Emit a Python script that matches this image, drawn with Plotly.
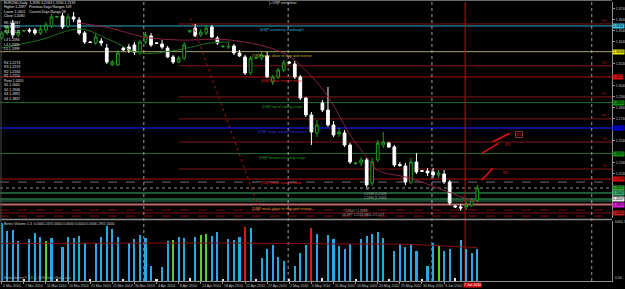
import plotly.graph_objects as go

# ---------------- data ----------------
bar_index = list(range(87))
opens = [1.3472,1.3518,1.3609,1.3500,1.3536,1.3545,1.3545,1.3518,1.3545,1.3582,
         1.3664,1.3673,1.3582,1.3664,1.3636,1.3518,1.3436,1.3427,1.3445,1.3381,
         1.3227,1.3227,1.3381,1.3390,1.3409,1.3345,1.3436,1.3491,1.3427,1.3418,
         1.3381,1.3300,1.3254,1.3290,1.3530,1.3563,1.3500,1.3518,1.3572,1.3472,
         1.3395,1.3392,1.3400,1.3336,1.3300,1.3154,1.3290,1.3290,1.3309,1.3072,
         1.3118,1.3181,1.3254,1.3236,1.3118,1.2926,1.2772,1.2608,1.2881,1.2817,
         1.2681,1.2599,1.2608,1.2499,1.2330,1.2335,1.2363,1.2153,1.2363,1.2499,
         1.2517,1.2481,1.2321,1.2308,1.2162,1.2344,1.2265,1.2262,1.2253,1.2226,
         1.2235,1.2162,1.1944,1.1935,1.1935,1.1953,1.1998]
highs = [1.3536,1.3591,1.3636,1.3545,1.3545,1.3563,1.3563,1.3591,1.3618,1.3691,
         1.3673,1.3700,1.3691,1.3709,1.3664,1.3536,1.3445,1.3518,1.3472,1.3418,
         1.3272,1.3363,1.3390,1.3418,1.3436,1.3454,1.3527,1.3518,1.3436,1.3454,
         1.3400,1.3318,1.3309,1.3436,1.3545,1.3600,1.3554,1.3591,1.3591,1.3491,
         1.3409,1.3427,1.3418,1.3363,1.3318,1.3309,1.3300,1.3345,1.3345,1.3136,
         1.3200,1.3272,1.3263,1.3263,1.3136,1.2935,1.2799,1.2726,1.2908,1.3027,
         1.2717,1.2654,1.2636,1.2517,1.2344,1.2390,1.2381,1.2381,1.2544,1.2617,
         1.2526,1.2499,1.2344,1.2335,1.2381,1.2426,1.2271,1.2289,1.2289,1.2271,
         1.2271,1.2180,1.1953,1.1962,1.1980,1.2016,1.2135]
lows = [1.3454,1.3500,1.3472,1.3482,1.3527,1.3518,1.3500,1.3500,1.3518,1.3563,
        1.3654,1.3554,1.3563,1.3618,1.3500,1.3418,1.3427,1.3409,1.3400,1.3236,
        1.3218,1.3218,1.3354,1.3336,1.3318,1.3318,1.3418,1.3390,1.3418,1.3372,
        1.3290,1.3236,1.3245,1.3272,1.3518,1.3482,1.3482,1.3500,1.3472,1.3409,
        1.3381,1.3372,1.3318,1.3300,1.3136,1.3136,1.3281,1.3272,1.3108,1.3045,
        1.3099,1.3163,1.3236,1.3099,1.2908,1.2754,1.2499,1.2571,1.2799,1.2663,
        1.2571,1.2571,1.2481,1.2326,1.2317,1.2308,1.2117,1.2126,1.2344,1.2472,
        1.2472,1.2299,1.2299,1.2135,1.2144,1.2235,1.2253,1.2217,1.2198,1.2198,
        1.2144,1.1953,1.1925,1.1898,1.1907,1.1935,1.1980]
closes = [1.3518,1.3572,1.3500,1.3527,1.3540,1.3536,1.3518,1.3554,1.3591,1.3664,
          1.3668,1.3572,1.3664,1.3645,1.3518,1.3436,1.3432,1.3482,1.3427,1.3254,
          1.3254,1.3336,1.3363,1.3363,1.3345,1.3436,1.3500,1.3409,1.3424,1.3390,
          1.3300,1.3254,1.3290,1.3409,1.3540,1.3491,1.3527,1.3563,1.3482,1.3427,
          1.3398,1.3395,1.3336,1.3309,1.3154,1.3290,1.3292,1.3318,1.3118,1.3118,
          1.3181,1.3245,1.3245,1.3118,1.2926,1.2772,1.2617,1.2681,1.2817,1.2681,
          1.2590,1.2617,1.2499,1.2344,1.2335,1.2363,1.2135,1.2344,1.2517,1.2526,
          1.2481,1.2317,1.2313,1.2162,1.2344,1.2253,1.2260,1.2244,1.2226,1.2244,
          1.2162,1.1971,1.1935,1.1925,1.1953,1.1998,1.2107]
volumes = [6250,5370,5480,4270,200,4490,5150,4710,4270,4600,
           150,3620,4710,4600,4820,4060,200,4060,4710,5920,
           5590,4710,220,4060,4490,4930,4600,1640,220,1530,
           4270,4380,4710,4600,330,4710,4930,5040,4820,5260,
           220,4490,4380,4710,5810,5700,220,2520,3400,3840,
           2630,2190,150,1640,3070,3840,5700,5040,330,4930,
           4490,3730,3400,3950,220,4490,4820,5040,5260,4600,
           220,3180,3950,3620,3950,3180,220,1640,4060,3730,
           3180,3400,330,4380,3400,3070,3400]
volume_type = ["n"] * 87
for i in [8, 31, 36, 37, 79]:
    volume_type[i] = "churn"
for i in [44, 56]:
    volume_type[i] = "climax"
for i in [4, 10, 16, 22, 28, 34, 40, 46, 52, 58, 64, 70, 76, 82]:
    volume_type[i] = "low"

vol_ma_x = [0, 20, 40, 60, 74, 86]
vol_ma_y = [4050, 4050, 4100, 4000, 3950, 3600]

ma_red_x = [13.8, 19.6, 25.6, 32.2, 41.3, 50.9, 55.8, 59.4, 63.0, 66.0, 67.9, 73.8, 79.8, 84.7, 86.0]
ma_red_y = [1.3609, 1.3563, 1.3482, 1.3454, 1.3454, 1.3336, 1.3136, 1.2908, 1.2590, 1.2390,
            1.2271, 1.2198, 1.2089, 1.1998, 1.1980]
ma_green_x = [0, 6.9, 14.2, 19.6, 25.0, 31.7, 37.7, 41.3]
ma_green_y = [1.3381, 1.3454, 1.3554, 1.3454, 1.3336, 1.3363, 1.3427, 1.3436]

trend_x = [34.1, 46.3]
trend_y = [1.3654, 1.1953]

date_ticks = list(range(0, 81, 4))
date_labels = ["2 Mar 2010", "7 Mar 2010", "11 Mar 2010", "16 Mar 2010", "21 Mar 2010",
               "25 Mar 2010", "30 Mar 2010", "4 Apr 2010", "8 Apr 2010", "13 Apr 2010",
               "18 Apr 2010", "22 Apr 2010", "27 Apr 2010", "2 May 2010", "6 May 2010",
               "11 May 2010", "16 May 2010", "20 May 2010", "25 May 2010", "30 May 2010",
               "3 Jun 2010"]

price_ticks = [1.3740, 1.3640, 1.3540, 1.3440, 1.3240, 1.3040, 1.2940,
               1.2840, 1.2740, 1.2540, 1.2340, 1.2240]

mm_levels = [1.3582, 1.3348, 1.3118, 1.2885, 1.2654, 1.2421, 1.2189, 1.1957]
mm_labels = ["[8/8]P extremely overbought", "[7/8]P weak, place to stop and reverse",
             "[6/8]P pivot, reverse major", "[5/8]P top of trading range",
             "[4/8]P major support/resistance", "[3/8]P bottom of trading range",
             "[2/8]P pivot, reverse major", "[1/8]P weak, place to stop and reverse"]

pivot_levels = [1.3600, 1.3220, 1.2936, 1.2736, 1.2526, 1.2280]
pivot_names = ["R3", "R2", "R1", "PP", "S1", "S2"]
pivot_start = 32

daily_levels = [1.2162, 1.2107, 1.2062, 1.2007, 1.1989, 1.1907, 1.1880, 1.1852]

vlines_dotted = [25.7, 51.8, 77.8, 106.7]
vline_red = 83.8

target_lines = [([86.8, 88.8], [1.2180, 1.2287]), ([86.8, 89.8], [1.2423, 1.2514]),
                ([88.8, 91.9], [1.2529, 1.2605])]
target_labels = [(90.4, 1.2247, "R1"), (90.9, 1.2505, "R2"), (92.8, 1.2596, "R3")]

camarilla = ["H5 1.2267", "H4 1.2211", "H3 1.2172", "L3 1.2094", "L4 1.2055", "L5 1.1999"]
pivots_txt = ["R4 1.2274", "R3 1.2219", "R2 1.2164", "R1 1.2110", "Pivot 1.2055",
              "S1 1.2001", "S2 1.1946", "S3 1.1892", "S4 1.1837"]

# right-hand price boxes
box_levels = [1.3582, 1.3348, 1.3118, 1.2885, 1.2654, 1.2421, 1.2189, 1.2107, 1.2062, 1.2007, 1.1957, 1.1880]

# ---------------- layout geometry ----------------
W, H = 625, 289
ML, MR, MT, MB = 0, 13, 0, 8
PW, PH = W - ML - MR, H - MT - MB
X_RANGE = [-0.307, 110.36]
P_RANGE = [1.18344, 1.3800]
V_RANGE = [0, 6464.7]


def py(pix):
    return (PH - pix) / PH


def pxf(pix):
    return pix / PW


FONT = "Liberation Sans, Arial, sans-serif"
FS = 4.0
FS_SMALL = 3.5
MAIN_DOM = [py(218), py(2)]
VOL_DOM = [0, py(221)]

fig = go.Figure()

fig.add_trace(go.Candlestick(
    x=bar_index, open=opens, high=highs, low=lows, close=closes,
    increasing=dict(line=dict(color="#20a020", width=1), fillcolor="#000000"),
    decreasing=dict(line=dict(color="#ffffff", width=1), fillcolor="#ffffff"),
    whiskerwidth=0, xaxis="x", yaxis="y", showlegend=False, hoverinfo="skip"))

vcol = {"n": "#29a9e0", "churn": "#55d12a", "climax": "#e01818", "low": "#e8e8e8"}
fig.add_trace(go.Bar(x=bar_index, y=volumes, marker=dict(color=[vcol[t] for t in volume_type], line=dict(width=0)),
                     width=0.38, xaxis="x", yaxis="y2", showlegend=False, hoverinfo="skip"))
fig.add_trace(go.Scatter(x=vol_ma_x, y=vol_ma_y, mode="lines", line=dict(color="#8b1010", width=1),
                         xaxis="x", yaxis="y2", showlegend=False, hoverinfo="skip"))

fig.add_trace(go.Scatter(x=ma_green_x, y=ma_green_y, mode="lines", line=dict(color="#1f6f1f", width=1, shape="spline"),
                         xaxis="x", yaxis="y", showlegend=False, hoverinfo="skip"))
fig.add_trace(go.Scatter(x=ma_red_x, y=ma_red_y, mode="lines", line=dict(color="#8a2040", width=1, shape="spline"),
                         xaxis="x", yaxis="y", showlegend=False, hoverinfo="skip"))
fig.add_trace(go.Scatter(x=trend_x, y=trend_y, mode="lines", line=dict(color="#a01818", width=1, dash="dot"),
                         xaxis="x", yaxis="y", showlegend=False, hoverinfo="skip"))
for tx, ty in target_lines:
    fig.add_trace(go.Scatter(x=tx, y=ty, mode="lines", line=dict(color="#e01010", width=1.6),
                             xaxis="x", yaxis="y", showlegend=False, hoverinfo="skip"))

shapes = []
anns = []

mm_colors = ["#2fa7c8", "#a8a060", "#b01010", "#1e6e1e", "#10108a", "#1e6e1e", "#b01010", "#b86868"]
mm_widths = [1, 1, 1, 1, 2, 1, 1, 2]
mm_text_colors = ["#34b4d8", "#c8b848", "#e02020", "#2e9a2e", "#3434e0", "#2e9a2e", "#e02020", "#e0a040"]
for lv, c, w in zip(mm_levels, mm_colors, mm_widths):
    shapes.append(dict(type="line", xref="paper", x0=0, x1=1, yref="y", y0=lv, y1=lv,
                       line=dict(color=c, width=w), layer="below"))
for lv in pivot_levels:
    shapes.append(dict(type="line", xref="x", x0=pivot_start, x1=X_RANGE[1], yref="y", y0=lv, y1=lv,
                       line=dict(color="#801818", width=1), layer="below"))
dl_colors = ["#707070", "#909090", "#3cb371", "#3cb371", "#2e8b57", "#7a1010", "#7a1010", "#7a1010"]
dl_dash = ["dash", "dot", "solid", "solid", "solid", "dash", "solid", "dash"]
for lv, c, d in zip(daily_levels, dl_colors, dl_dash):
    shapes.append(dict(type="line", xref="paper", x0=0, x1=1, yref="y", y0=lv, y1=lv,
                       line=dict(color=c, width=1, dash=d), layer="below"))
for vx in vlines_dotted:
    shapes.append(dict(type="line", xref="x", x0=vx, x1=vx, yref="paper", y0=0, y1=MAIN_DOM[1],
                       line=dict(color="#a0a0a0", width=1, dash="dot"), layer="below"))
shapes.append(dict(type="line", xref="x", x0=vline_red, x1=vline_red, yref="paper", y0=0, y1=MAIN_DOM[1],
                   line=dict(color="#b01818", width=1), layer="below"))
# panel separator & borders
shapes.append(dict(type="line", xref="paper", x0=0, x1=1, yref="paper", y0=py(219.5), y1=py(219.5),
                   line=dict(color="#8a8a8a", width=1.5)))
shapes.append(dict(type="line", xref="paper", x0=0, x1=1, yref="paper", y0=py(0.5), y1=py(0.5),
                   line=dict(color="#6a6a6a", width=1)))
shapes.append(dict(type="line", xref="paper", x0=pxf(1), x1=pxf(1), yref="paper", y0=0, y1=1,
                   line=dict(color="#4a4a4a", width=1)))

# Murrey labels
for lv, t, c in zip(mm_levels, mm_labels, mm_text_colors):
    anns.append(dict(x=50.7, y=lv, xref="x", yref="y", text=t, showarrow=False, xanchor="center",
                     yanchor="top", font=dict(family=FONT, size=FS_SMALL, color=c)))
anns.append(dict(x=50.7, y=py(3), xref="x", yref="paper", text="[+1/8]P overshoot",
                 showarrow=False, xanchor="center", yanchor="middle",
                 font=dict(family=FONT, size=FS_SMALL, color="#d0d0d0")))
for lv, n in zip(pivot_levels, pivot_names):
    anns.append(dict(x=pxf(609), y=lv, xref="paper", yref="y", text=n, showarrow=False, xanchor="right",
                     yanchor="bottom", yshift=-1, font=dict(family=FONT, size=FS_SMALL, color="#a02020")))

# right-side price boxes
box_colors = ["#3cc6e6", "#e8e800", "#e01010", "#129012", "#0000e8", "#129012",
              "#e01010", "#2ea02e", "#3cb371", "#e8e8e8", "#e020e0", "#c02020"]
for lv, c in zip(box_levels, box_colors):
    anns.append(dict(x=1, y=lv, xref="paper", yref="y", text=f"{lv:.4f}", showarrow=False, xanchor="left",
                     yanchor="middle", bgcolor=c, borderpad=0,
                     font=dict(family=FONT, size=FS_SMALL, color="#000000")))

# target labels
for tx, ty, t in target_labels:
    anns.append(dict(x=tx, y=ty, xref="x", yref="y", text=t, showarrow=False, xanchor="left",
                     yanchor="middle", font=dict(family=FONT, size=FS, color="#e02020"),
                     bordercolor="#803030" if t == "R3" else "rgba(0,0,0,0)", borderwidth=1,
                     borderpad=0))

# top-left info text
info = [(2, 3, "EURUSD,Daily  1.2090 1.2163 1.2050 1.2133"), (2, 7.5, "Higher 1.2097"),
        (27, 7.5, "Previous Days Ranges 109"), (2, 12, "Lower 1.2001"),
        (27, 12, "Current Days Range 58"), (2, 16.5, "Close 1.2080")]
for x, y, t in info:
    anns.append(dict(x=pxf(x), y=py(y), xref="paper", yref="paper", text=t, showarrow=False,
                     xanchor="left", yanchor="middle", font=dict(family=FONT, size=FS_SMALL, color="#e0e0e0")))
for k, t in enumerate(camarilla):
    y = 23 + 4.4 * k + (4 if k >= 3 else 0)
    anns.append(dict(x=pxf(2), y=py(y), xref="paper", yref="paper", text=t, showarrow=False,
                     xanchor="left", yanchor="middle", font=dict(family=FONT, size=FS_SMALL, color="#e0e0e0")))
for k, t in enumerate(pivots_txt):
    anns.append(dict(x=pxf(2), y=py(63 + 4.5 * k), xref="paper", yref="paper", text=t, showarrow=False,
                     xanchor="left", yanchor="middle", font=dict(family=FONT, size=FS_SMALL, color="#e0e0e0")))

# misc small texts
misc = [(364, 189, "M"), (362, 194, "1.2133 (1.2163)"), (362, 198, "1.2090 (1.2050)"),
        (343, 211, "1.2107 / 1.2133"), (340, 215, "14 DPT 1.2133 SELL 0.5 LOT")]
for x, y, t in misc:
    anns.append(dict(x=pxf(x), y=py(y), xref="paper", yref="paper", text=t, showarrow=False,
                     xanchor="left", yanchor="middle", font=dict(family=FONT, size=3.2, color="#b0b0b0")))

# volume texts
anns.append(dict(x=pxf(2), y=py(223.5), xref="paper", yref="paper",
                 text="Better Volume 1.4  0.0000 2470.0000 0.0000 0.0000 0.0000 2957.0000",
                 showarrow=False, xanchor="left", yanchor="middle",
                 font=dict(family=FONT, size=FS_SMALL, color="#d0d0d0")))
anns.append(dict(x=pxf(2), y=py(278), xref="paper", yref="paper",
                 text="Better Volume\u2122 1.4 (c) 2009 Emini-Watch.com",
                 showarrow=False, xanchor="left", yanchor="middle",
                 font=dict(family=FONT, size=3.2, color="#b0b0b0")))
anns.append(dict(x=1, y=py(222.5), xref="paper", yref="paper", text="6464.7", showarrow=False,
                 xanchor="left", yanchor="middle", xshift=1, font=dict(family=FONT, size=FS_SMALL, color="#c0c0c0")))
anns.append(dict(x=1, y=py(278), xref="paper", yref="paper", text="0.00", showarrow=False,
                 xanchor="left", yanchor="middle", xshift=1, font=dict(family=FONT, size=FS_SMALL, color="#c0c0c0")))

# date labels
for t, lab in zip(date_ticks, date_labels):
    anns.append(dict(x=t, y=0, xref="x", yref="paper", text=lab, showarrow=False, xanchor="left",
                     yanchor="top", xshift=-1, yshift=-1, font=dict(family=FONT, size=FS_SMALL, color="#c0c0c0")))
anns.append(dict(x=vline_red, y=0, xref="x", yref="paper", text="7 Jun 2010", showarrow=False,
                 xanchor="left", yanchor="top", xshift=-2, yshift=-1, bgcolor="#d01010", borderpad=0,
                 font=dict(family=FONT, size=FS_SMALL, color="#ffffff")))

fig.update_layout(
    width=W, height=H, margin=dict(l=ML, r=MR, t=MT, b=MB),
    paper_bgcolor="#000000", plot_bgcolor="#000000",
    showlegend=False, bargap=0,
    xaxis=dict(range=X_RANGE, anchor="y2", showgrid=False, zeroline=False, showticklabels=False,
               tickvals=date_ticks, ticks="outside", ticklen=2, tickcolor="#909090",
               showline=True, linecolor="#909090", linewidth=1, rangeslider=dict(visible=False)),
    yaxis=dict(domain=MAIN_DOM, range=P_RANGE, side="right", anchor="x", showgrid=False, zeroline=False,
               tickvals=price_ticks, ticktext=[f"{p:.4f}" for p in price_ticks],
               ticks="outside", ticklen=2, tickcolor="#909090",
               tickfont=dict(family=FONT, size=FS_SMALL, color="#c8c8c8"),
               showline=True, linecolor="#909090", linewidth=1),
    yaxis2=dict(domain=VOL_DOM, range=V_RANGE, side="right", anchor="x", showgrid=False, zeroline=False,
                showticklabels=False, ticks="", showline=True, linecolor="#909090", linewidth=1),
    shapes=shapes, annotations=anns,
)

fig.write_html("out.html", config={"displayModeBar": False})
